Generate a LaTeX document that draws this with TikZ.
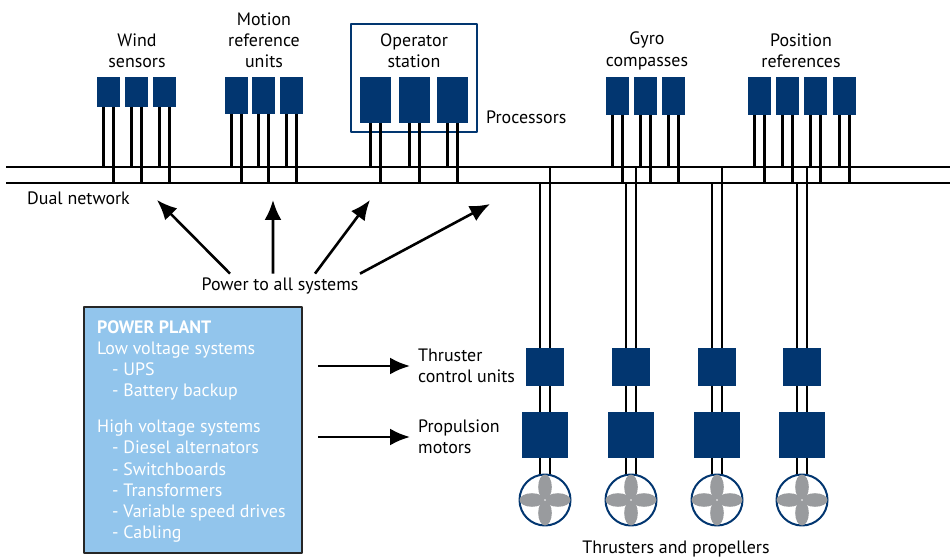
\documentclass[tikz,border=0pt]{standalone}
\usepackage{fontspec}
\setmainfont{PT Sans}
\usetikzlibrary{arrows.meta}
\definecolor{unitblue}{RGB}{2,54,112}
\definecolor{plantblue}{RGB}{146,197,236}
\definecolor{bladegrey}{RGB}{153,155,158}
\tikzset{
  unit/.style={fill=unitblue,inner sep=0pt,outer sep=0pt},
  wire/.style={black,line width=2.4bp},
  lbl/.style={align=center,inner sep=0pt,font=\fontsize{18}{21.3}\selectfont},
  flow/.style={->,black,line width=2.6bp},
}
\begin{document}
\begin{tikzpicture}[x=1bp,y=-1bp,>={Latex[length=20bp,width=17bp]},line join=bevel,]
\useasboundingbox (0,0) rectangle (950,558);
%%
\coordinate (net_a) at (6,167);
  \coordinate (net_a_end) at (950,167);
  \coordinate (net_b) at (6,183);
  \coordinate (net_b_end) at (950,183);
  \draw [wire] (net_a) -- (net_a_end);
  \draw [wire] (net_b) -- (net_b_end);
%
\node (wind_1) at (108.5,92) [unit,minimum width=23bp,minimum height=30bp] {};
  \node (wind_2) at (136.5,92) [unit,minimum width=23bp,minimum height=30bp] {};
  \node (wind_3) at (164.5,92) [unit,minimum width=23bp,minimum height=30bp] {};
  \node (mru_1) at (236.5,95.5) [unit,minimum width=23bp,minimum height=37bp] {};
  \node (mru_2) at (263.5,95.5) [unit,minimum width=23bp,minimum height=37bp] {};
  \node (mru_3) at (291.5,95.5) [unit,minimum width=23bp,minimum height=37bp] {};
  \node (op_frame) at (414,78) [draw=unitblue,line width=1.2bp,minimum width=126bp,minimum height=108bp] {};
  \node (op_1) at (375.5,100) [unit,minimum width=31bp,minimum height=46bp] {};
  \node (op_2) at (414.5,100) [unit,minimum width=31bp,minimum height=46bp] {};
  \node (op_3) at (452.5,100) [unit,minimum width=31bp,minimum height=46bp] {};
  \node (gyro_1) at (617.5,96) [unit,minimum width=23bp,minimum height=38bp] {};
  \node (gyro_2) at (645.5,96) [unit,minimum width=23bp,minimum height=38bp] {};
  \node (gyro_3) at (673.5,96) [unit,minimum width=23bp,minimum height=38bp] {};
  \node (pos_1) at (759.5,96) [unit,minimum width=23bp,minimum height=38bp] {};
  \node (pos_2) at (787.5,96) [unit,minimum width=23bp,minimum height=38bp] {};
  \node (pos_3) at (815.5,96) [unit,minimum width=23bp,minimum height=38bp] {};
  \node (pos_4) at (844.5,96) [unit,minimum width=23bp,minimum height=38bp] {};
%
\foreach \n in {wind_1,wind_2,wind_3,mru_1,mru_2,mru_3,op_1,op_2,op_3,gyro_1,gyro_2,gyro_3,pos_1,pos_2,pos_3,pos_4} {
  \draw [wire] ([xshift=-5bp]\n.south) -- ([xshift=-5bp]\n.south |- net_a);
  \draw [wire] ([xshift=5bp]\n.south) -- ([xshift=5bp]\n.south |- net_b);
}
%
\node (wind_lbl) at (137,51) [lbl] {Wind\\sensors};
  \node (mru_lbl) at (264,40) [lbl] {Motion\\reference\\units};
  \node (op_lbl) at (414,51) [lbl] {Operator\\station};
  \node (gyro_lbl) at (647,51) [lbl] {Gyro\\compasses};
  \node (pos_lbl) at (801,51) [lbl] {Position\\references};
  \node (proc_lbl) at (486,117) [lbl,anchor=west] {Processors};
  \node (net_lbl) at (27,198) [lbl,anchor=west] {Dual network};
%
\foreach \i/\x in {1/545,2/631,3/717,4/802} {
  \node (tcu_\i) at (\x,367) [unit,minimum width=38bp,minimum height=38bp] {};
  \node (mot_\i) at (\x,435) [unit,minimum width=46bp,minimum height=46bp] {};
  \node (prop_\i) at (\x,500) [circle,draw=unitblue,fill=white,line width=2bp,inner sep=0pt,minimum size=51bp] {};
  \foreach \a in {0,90,180,270}
    \fill [bladegrey,rotate around={\a:(prop_\i.center)}] ([yshift=13bp]prop_\i.center) ellipse [x radius=6.8bp,y radius=12.5bp];
  \draw [wire] ([xshift=5bp]tcu_\i.north) -- ([xshift=5bp]tcu_\i.north |- net_a);
  \draw [wire] ([xshift=-5bp]tcu_\i.north) -- ([xshift=-5bp]tcu_\i.north |- net_b);
  \draw [wire] ([xshift=-5bp]tcu_\i.south) -- ([xshift=-5bp]mot_\i.north);
  \draw [wire] ([xshift=5bp]tcu_\i.south) -- ([xshift=5bp]mot_\i.north);
  \draw [wire] ([xshift=-5bp]mot_\i.south) -- ([xshift=-5bp]prop_\i.north);
  \draw [wire] ([xshift=5bp]mot_\i.south) -- ([xshift=5bp]prop_\i.north);
}
\node (thr_lbl) at (676,549) [lbl] {Thrusters and propellers};
%
\node (pplant) at (193,430) [draw=black!85,fill=plantblue,line width=2bp,minimum width=218bp,minimum height=246bp] {};
  \node (pplant_txt) at (97,320) [lbl,anchor=north west,align=left,text=white] {\textbf{POWER PLANT}\\Low voltage systems\\\hspace*{15bp}- UPS\\\hspace*{15bp}- Battery backup\\[14.7bp]High voltage systems\\\hspace*{15bp}- Diesel alternators\\\hspace*{15bp}- Switchboards\\\hspace*{15bp}- Transformers\\\hspace*{15bp}- Variable speed drives\\\hspace*{15bp}- Cabling};
%
\node (tcu_lbl) at (418,366) [lbl,anchor=west,align=left] {Thruster\\control units};
  \node (mot_lbl) at (418,437) [lbl,anchor=west,align=left] {Propulsion\\motors};
  \draw [flow] ([xshift=15bp]pplant.east |- tcu_lbl.west) -- ([xshift=-8bp]tcu_lbl.west);
  \draw [flow] ([xshift=15bp]pplant.east |- mot_lbl.west) -- ([xshift=-8bp]mot_lbl.west);
%
\node (pwr_lbl) at (280,286) [lbl] {Power to all systems};
  \coordinate (pwr_1) at (157,200);
  \coordinate (pwr_2) at (273,200);
  \coordinate (pwr_3) at (370,200);
  \coordinate (pwr_4) at (490,204);
  \draw [flow] ([xshift=-50bp,yshift=4bp]pwr_lbl.north) -- (pwr_1);
  \draw [flow] ([xshift=-7bp,yshift=4bp]pwr_lbl.north) -- (pwr_2);
  \draw [flow] ([xshift=35bp,yshift=4bp]pwr_lbl.north) -- (pwr_3);
  \draw [flow] ([xshift=80bp,yshift=4bp]pwr_lbl.north) -- (pwr_4);
%
\end{tikzpicture}
\end{document}
